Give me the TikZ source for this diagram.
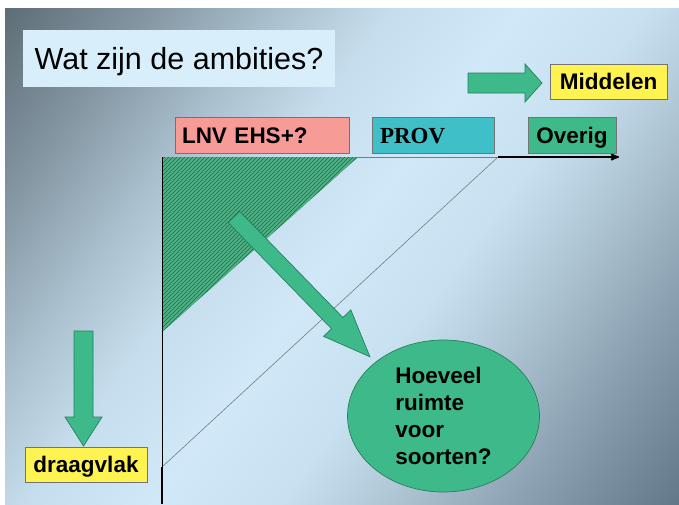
\documentclass[tikz,border=0pt]{standalone}
\usepackage{fontspec}
\setmainfont{Liberation Sans}
\newfontfamily\serifbold{Liberation Serif}
\usetikzlibrary{arrows,shapes.geometric,patterns}

\definecolor{bgA}{HTML}{5A6A74}
\definecolor{bgB}{HTML}{8496A2}
\definecolor{bgC}{HTML}{A9BFCD}
\definecolor{bgD}{HTML}{C6DDED}
\definecolor{bgE}{HTML}{D0E8F8}
\definecolor{bgF}{HTML}{C8E1F1}
\definecolor{bgG}{HTML}{AFC6D5}
\definecolor{bgH}{HTML}{8DA3B3}
\definecolor{bgI}{HTML}{62788A}
\definecolor{titlebg}{HTML}{D8EEFA}
\definecolor{lnvpink}{HTML}{F79B96}
\definecolor{provteal}{HTML}{3FBFC7}
\definecolor{slidegreen}{HTML}{3DB98A}
\definecolor{tagyellow}{HTML}{FFF352}
\definecolor{hatchgreen}{HTML}{1D6646}
\definecolor{hatchlight}{HTML}{4FAF85}
\definecolor{linegrey}{HTML}{6F7F86}
\definecolor{arrowline}{HTML}{2A7F5E}

\pgfdeclarehorizontalshading{slideshade}{100bp}{color(0bp)=(bgA); color(25bp)=(bgA);
  color(32.5bp)=(bgB); color(38.5bp)=(bgC); color(44bp)=(bgD); color(50bp)=(bgE); color(56bp)=(bgF);
  color(61bp)=(bgG); color(67bp)=(bgH); color(75bp)=(bgI); color(100bp)=(bgI)}

\pgfdeclarepatternformonly{greenhatch}{\pgfqpoint{-1pt}{-1pt}}{\pgfqpoint{5pt}{5pt}}{\pgfqpoint{4pt}{4pt}}%
  {\pgfsetlinewidth{2pt}\pgfpathmoveto{\pgfqpoint{-1pt}{-1pt}}\pgfpathlineto{\pgfqpoint{5pt}{5pt}}\pgfusepath{stroke}}

\begin{document}
\begin{tikzpicture}[x=1pt,y=-1pt,>=stealth']
  \tikzstyle{tag}=[draw=black!55,line width=0.7pt,minimum height=36pt,inner xsep=6pt,inner ysep=4pt,
    text height=20pt,text depth=4pt,font=\fontsize{22.5}{27}\selectfont\bfseries]
  \tikzstyle{blockarrow}=[fill=slidegreen,draw=arrowline,line width=0.7pt]
  \tikzstyle{bubble}=[ellipse,fill=slidegreen,draw=arrowline,line width=0.7pt,minimum width=192pt,
    minimum height=152pt,inner sep=2pt,align=left,font=\fontsize{22.5}{27.2}\selectfont\bfseries]

  % slide background
  \useasboundingbox (0,0) rectangle (679,504);
  \fill[white] (0,0) rectangle (679,504);
  \begin{scope}
    \clip (5,8) rectangle (679,504);
    \begin{scope}[transform canvas={rotate around={-36.6:(339.5,252)}}]
      \shade[shading=slideshade] (-84,-171) rectangle (763,675);
    \end{scope}
  \end{scope}

  \node[fill=titlebg,minimum width=312pt,minimum height=57pt,inner sep=0pt,
    text height=28pt,text depth=6pt,font=\fontsize{30.5}{36}\selectfont] (title) at (179,58.5) {Wat zijn de ambities?};

  % axes
  \coordinate (O) at (162,157);
  \coordinate (xend) at (619,157);
  \coordinate (ybot) at (162,504);
  \coordinate (dlow) at (162,467);
  \coordinate (dhigh) at (498,157);
  \coordinate (tri) at (358,157);
  \coordinate (tribot) at (162,332);

  \fill[hatchgreen] (O) -- (tri) -- (tribot) -- cycle;
  \fill[pattern=greenhatch,pattern color=hatchlight] (O) -- (tri) -- (tribot) -- cycle;

  \draw[line width=0.6pt,linegrey] (tri) -- (dhigh);
  \draw[line width=0.6pt,linegrey] (dlow) -- (dhigh);
  \draw[line width=0.8pt] (O) -- (dlow);
  \draw[->,line width=1.8pt] (dhigh) -- (xend);
  \draw[line width=2pt] (dlow) -- (ybot);

  % labels
  \node[tag,fill=lnvpink,text width=160pt,inner xsep=7pt,align=left] (lnv) at (262,135) {LNV EHS+?};
  \node[tag,fill=provteal,text width=106pt,inner xsep=8pt,align=left,
    font=\serifbold\fontsize{23}{27}\selectfont\bfseries] (prov) at (433,135) {PROV};
  \node[tag,fill=slidegreen,minimum width=88pt] (overig) at (572,135) {Overig};
  \node[tag,fill=tagyellow,minimum width=117pt,minimum height=35pt] (middelen) at (608.5,81.5) {Middelen};
  \node[tag,fill=tagyellow,minimum width=122pt,minimum height=35pt] (draagvlak) at (86,464.5) {draagvlak};

  % block arrows
  \begin{scope}[shift={(468,83)}]
    \draw[blockarrow] (0,-10) -- (57,-10) -- (57,-19) -- (74,0) -- (57,19) -- (57,10) -- (0,10) -- cycle;
  \end{scope}
  \begin{scope}[shift={(83.5,331)},rotate=-90]
    \draw[blockarrow] (0,-9.5) -- (86,-9.5) -- (86,-18.5) -- (115,0) -- (86,18.5) -- (86,9.5) -- (0,9.5) -- cycle;
  \end{scope}
  \begin{scope}[shift={(234,217)},rotate=-45.8]
    \draw[blockarrow] (0,-8) -- (148,-8) -- (148,-19) -- (195,0) -- (148,19) -- (148,8) -- (0,8) -- cycle;
  \end{scope}

  \node[bubble] (ruimte) at (443.5,416) {Hoeveel\\ruimte\\voor\\soorten?};
\end{tikzpicture}
\end{document}
